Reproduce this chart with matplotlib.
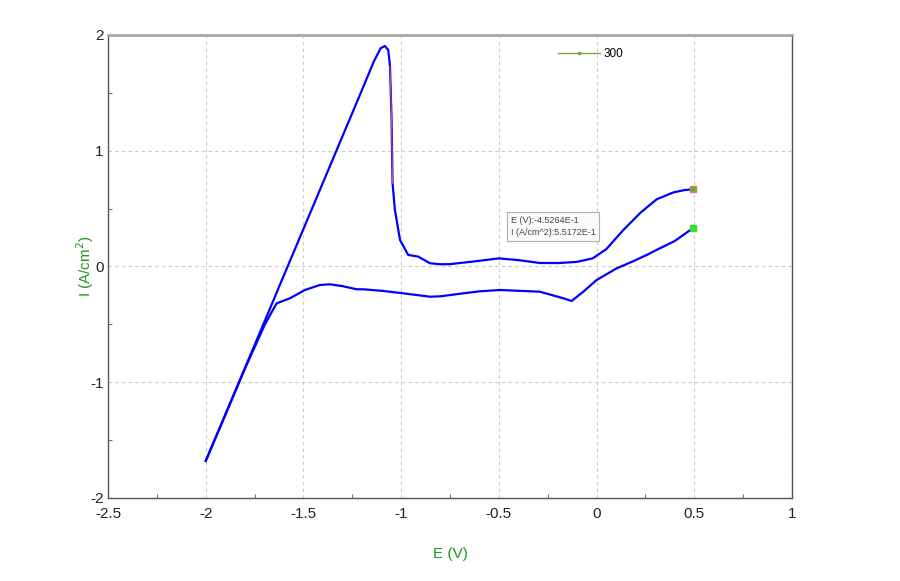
import matplotlib
matplotlib.use("Agg")
import matplotlib.pyplot as plt
from matplotlib.ticker import MultipleLocator, FormatStrFormatter

plt.rcParams['font.family'] = ['Liberation Sans', 'DejaVu Sans']
plt.rcParams['axes.unicode_minus'] = False

# forward sweep: -2 V -> 0.5 V
e_fwd = [-2.0, -1.87, -1.74, -1.62, -1.50, -1.35, -1.21, -1.14, -1.105, -1.083,
         -1.066, -1.057, -1.049, -1.044, -1.032, -1.006, -0.964, -0.912, -0.853,
         -0.80, -0.75, -0.62, -0.50, -0.40, -0.29, -0.19, -0.10, -0.02, 0.05,
         0.137, 0.222, 0.307, 0.393, 0.45, 0.495]
i_fwd = [-1.68, -1.16, -0.64, -0.157, 0.324, 0.925, 1.486, 1.77, 1.885, 1.905,
         1.87, 1.73, 1.27, 0.72, 0.49, 0.23, 0.10, 0.085, 0.028,
         0.019, 0.02, 0.045, 0.07, 0.055, 0.03, 0.03, 0.04, 0.07, 0.15,
         0.315, 0.46, 0.58, 0.64, 0.66, 0.667]

# reverse sweep: 0.5 V -> -2 V
e_rev = [0.492, 0.40, 0.307, 0.256, 0.18, 0.103, 0.0, -0.068, -0.128, -0.17,
         -0.29, -0.40, -0.494, -0.60, -0.682, -0.80, -0.853, -0.989, -1.10,
         -1.194, -1.228, -1.30, -1.364, -1.416, -1.492, -1.569, -1.637, -1.671,
         -1.697, -1.80, -1.90, -2.0]
i_rev = [0.33, 0.22, 0.143, 0.099, 0.04, -0.016, -0.117, -0.218, -0.298, -0.275,
         -0.218, -0.21, -0.203, -0.215, -0.232, -0.258, -0.261, -0.232, -0.21,
         -0.197, -0.197, -0.17, -0.154, -0.16, -0.203, -0.275, -0.318, -0.42,
         -0.50, -0.885, -1.285, -1.68]

# the red highlighted part of the drop
e_sel = [-1.057, -1.049, -1.044]
i_sel = [1.73, 1.27, 0.72]

legend_label = "300"
tip_lines = ["E (V):-4.5264E-1", "I (A/cm^2):5.5172E-1"]

fig = plt.figure(figsize=(9, 5.81), dpi=100)
ax = fig.add_axes([0.12, 0.1429, 0.76, 0.7969])

ax.plot(e_fwd, i_fwd, color='#0000ff', lw=1.6, zorder=3, solid_joinstyle='round')
ax.plot(e_rev, i_rev, color='#0000ff', lw=1.6, zorder=3, solid_joinstyle='round')
ax.plot(e_sel, i_sel, color='#ff5050', lw=0.7, zorder=4)

ax.plot(e_fwd[-1], i_fwd[-1], marker='s', ms=5, mfc='#40c040', mec='#f07060', mew=1, zorder=5)
ax.plot(e_rev[0], i_rev[0], marker='s', ms=5, mfc='#30e030', mec='#30e030', zorder=5)

ax.set_xlim(-2.5, 1)
ax.set_ylim(-2, 2)
ax.xaxis.set_major_locator(MultipleLocator(0.5))
ax.xaxis.set_minor_locator(MultipleLocator(0.25))
ax.yaxis.set_major_locator(MultipleLocator(1))
ax.yaxis.set_minor_locator(MultipleLocator(0.5))
ax.xaxis.set_major_formatter(FormatStrFormatter('%g'))
ax.yaxis.set_major_formatter(FormatStrFormatter('%g'))
ax.tick_params(which='major', length=0, labelsize=11, colors='#222222')
ax.tick_params(axis='x', which='major', pad=6.5)
ax.tick_params(axis='y', which='major', pad=3)
ax.tick_params(which='minor', length=3, direction='in', color='#555555')
ax.grid(True, which='major', ls=(0, (3, 3)), color='#c8c8c8', lw=0.8)

for s in ['left', 'bottom', 'right']:
    ax.spines[s].set_color('#555555')
    ax.spines[s].set_linewidth(1.0)
ax.spines['top'].set_color('#a8a8a8')
ax.spines['top'].set_linewidth(2.0)

ax.set_xlabel('E (V)', color='#1a9a1a', fontsize=11, labelpad=19)
ax.set_ylabel('I (A/cm$^{2}$)', color='#1a9a1a', fontsize=11, labelpad=-4)

lg_line, = ax.plot([], [], color='#7aa640', lw=1, marker='.', ms=3, markevery=[1])
lg = ax.legend([lg_line], [legend_label], loc='upper left', bbox_to_anchor=(0.642, 0.995),
               frameon=False, fontsize=8.5, handlelength=3.6, handletextpad=0.3)

ax.text(-0.44, 0.345, "\n".join(tip_lines), fontsize=6.5, color='#444444',
        linespacing=1.5, va='center', ha='left', zorder=6,
        bbox=dict(boxstyle='square,pad=0.4', fc='#fbfbfb', ec='#b0b0b0', lw=0.8))

fig.savefig('out.png', dpi=100)
